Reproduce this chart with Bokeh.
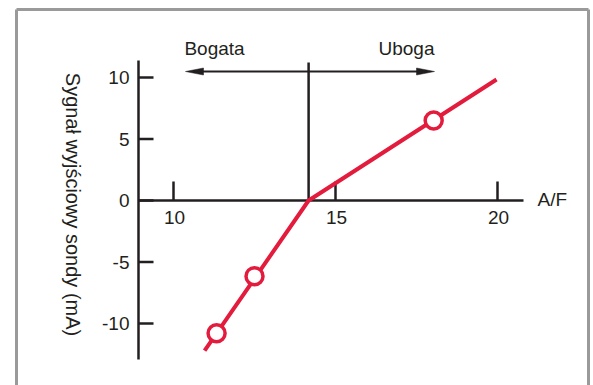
import math
from bokeh.plotting import figure
from bokeh.models import Range1d
from bokeh.core.properties import value
from bokeh.embed import file_html
from bokeh.resources import INLINE

# ---- data ----
af_ticks = [10, 15, 20]
af_tick_labels = ["10", "15", "20"]
signal_ticks = [-10, -5, 0, 5, 10]
signal_tick_labels = ["-10", "-5", "0", "5", "10"]
line_af = [10.96, 14.17, 19.97]
line_signal = [-12.2, 0.0, 9.84]
point_af = [11.33, 12.50, 18.03]
point_signal = [-10.79, -6.15, 6.5]
stoich_af = 14.17
rich_label = "Bogata"
lean_label = "Uboga"
x_label = "A/F"
y_label = "Sygnał wyjściowy sondy (mA)"

# ---- scale (pixels per unit) ----
W, H = 593, 385
PX_X = 32.4
PX_Y = 12.3
x0 = 10 - 173 / PX_X
x1 = x0 + W / PX_X
y1 = 200 / PX_Y
y0 = y1 - H / PX_Y


def X(px):
    return x0 + px / PX_X


def Y(py):
    return y1 - py / PX_Y


def dx(px):
    return px / PX_X


def dy(px):
    return px / PX_Y


INK = "#231f20"
RED = "#e31b3c"
FONT = value("Liberation Sans")

p = figure(width=W, height=H, x_range=Range1d(x0, x1), y_range=Range1d(y0, y1),
           x_axis_type=None, y_axis_type=None, output_backend="svg",
           toolbar_location=None, min_border=0, outline_line_color=None)
p.xgrid.visible = False
p.ygrid.visible = False
p.background_fill_color = "white"
p.border_fill_color = "white"

# gray frame (left, top, right)
fl, fr, ft = X(16), X(588), Y(9)
p.multi_line(xs=[[fl, fl], [fl, fr], [fr, fr]], ys=[[y0 - 1, ft], [ft, ft], [ft, y0 - 1]],
             line_color="#9a9a9a", line_width=3)

# axes
ax_x = X(138)
ax_end = X(523)
p.segment(x0=[ax_x], y0=[0], x1=[ax_end], y1=[0], line_color=INK, line_width=2.5)
p.segment(x0=[ax_x], y0=[Y(359)], x1=[ax_x], y1=[Y(60)], line_color=INK, line_width=2.5)

# y ticks
p.segment(x0=[ax_x] * len(signal_ticks), y0=signal_ticks,
          x1=[ax_x + dx(15)] * len(signal_ticks), y1=signal_ticks,
          line_color=INK, line_width=2.5)
p.text(x=[ax_x - dx(9)] * len(signal_ticks), y=signal_ticks, text=signal_tick_labels,
       text_align="right", text_baseline="middle", text_font=FONT,
       text_font_size="19px", text_color=INK)

# x ticks
p.segment(x0=af_ticks, y0=[0] * len(af_ticks), x1=af_ticks, y1=[dy(19)] * len(af_ticks),
          line_color=INK, line_width=2.5)
p.text(x=[t + dx(1) for t in af_ticks], y=[-dy(17)] * len(af_ticks), text=af_tick_labels,
       text_align="center", text_baseline="middle", text_font=FONT,
       text_font_size="19px", text_color=INK)

p.text(x=[X(537)], y=[dy(1)], text=[x_label], text_align="left",
       text_baseline="middle", text_font=FONT, text_font_size="19px", text_color=INK)

# y label (reads top to bottom)
p.text(x=[X(72)], y=[Y(204)], text=[y_label], angle=-math.pi / 2,
       text_align="center", text_baseline="middle", text_font=FONT,
       text_font_size="20px", text_color=INK)

# stoichiometric divider
p.segment(x0=[stoich_af], y0=[0], x1=[stoich_af], y1=[Y(62)], line_color=INK, line_width=2.5)

# double arrow
ay = Y(71)
a_left = X(185)
a_right = X(434)
hl = dx(18)
hw = dy(3.5)
p.segment(x0=[a_left + hl * 0.8], y0=[ay], x1=[a_right - hl * 0.8], y1=[ay],
          line_color=INK, line_width=2)
p.patches(xs=[[a_left, a_left + hl, a_left + hl], [a_right, a_right - hl, a_right - hl]],
          ys=[[ay, ay + hw, ay - hw], [ay, ay + hw, ay - hw]],
          fill_color=INK, line_color=INK, line_width=0.5)

p.text(x=[X(214), X(406)], y=[Y(48), Y(48)], text=[rich_label, lean_label],
       text_align="center", text_baseline="middle", text_font=FONT,
       text_font_size="19px", text_color=INK)

# sensor signal
p.line(line_af, line_signal, line_color=RED, line_width=4)
p.scatter(point_af, point_signal, marker="circle", size=17, fill_color="white",
          line_color=RED, line_width=3.5)

open("out.html", "w").write(file_html(p, INLINE))
